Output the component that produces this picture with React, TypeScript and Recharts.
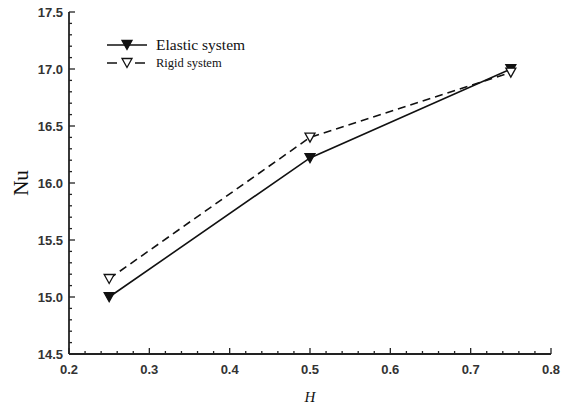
import React from 'react';
import { LineChart, Line, XAxis, YAxis } from 'recharts';

const hValues = [0.25, 0.5, 0.75];
const elasticNu = [15.0, 16.22, 17.0];
const rigidNu = [15.16, 16.4, 16.97];
const xMajorTicks = [0.2, 0.3, 0.4, 0.5, 0.6, 0.7, 0.8];
const yMajorTicks = [14.5, 15.0, 15.5, 16.0, 16.5, 17.0, 17.5];
const xMinorDiv = 5;
const yMinorDiv = 5;

const subdivide = (majors: number[], div: number) => {
  const out: number[] = [];
  for (let i = 0; i < majors.length; i++) {
    out.push(majors[i]);
    if (i < majors.length - 1) {
      const step = (majors[i + 1] - majors[i]) / div;
      for (let k = 1; k < div; k++) out.push(+(majors[i] + step * k).toFixed(4));
    }
  }
  return out;
};

const xTicks = subdivide(xMajorTicks, xMinorDiv);
const yTicks = subdivide(yMajorTicks, yMinorDiv);

const data = hValues.map((h, i) => ({ h, elastic: elasticNu[i], rigid: rigidNu[i] }));

const isMajor = (v: number, majors: number[]) => majors.some((m) => Math.abs(m - v) < 1e-6);

const TICK_MARGIN = 4;
const tickFont = { fontFamily: 'Liberation Sans, Arial, sans-serif', fontSize: 13, fill: '#333', fontWeight: 600 };

const YTick = (props: any) => {
  const { x, y, payload } = props;
  const major = isMajor(payload.value, yMajorTicks);
  const axisX = x + TICK_MARGIN;
  return (
    <g>
      <line x1={axisX} x2={axisX + (major ? 6 : 3)} y1={y} y2={y} stroke="#222" strokeWidth={1.3} />
      {major && (
        <text x={x - 2} y={y} dy={5} textAnchor="end" {...tickFont}>
          {payload.value.toFixed(1)}
        </text>
      )}
    </g>
  );
};

const XTick = (props: any) => {
  const { x, y, payload } = props;
  const major = isMajor(payload.value, xMajorTicks);
  const axisY = y - TICK_MARGIN;
  return (
    <g>
      <line x1={x} x2={x} y1={axisY} y2={axisY - (major ? 6 : 3)} stroke="#222" strokeWidth={1.3} />
      {major && (
        <text x={x} y={y} dy={16} textAnchor="middle" {...tickFont}>
          {payload.value.toFixed(1)}
        </text>
      )}
    </g>
  );
};

const TriDot = (filled: boolean) => (props: any) => {
  const { cx, cy, index } = props;
  if (cx == null || cy == null) return <g key={index} />;
  const s = 5;
  return (
    <path
      key={index}
      d={`M${cx - s},${cy - s * 0.85} L${cx + s},${cy - s * 0.85} L${cx},${cy + s * 0.95} Z`}
      fill={filled ? '#111' : '#fff'}
      stroke="#111"
      strokeWidth={1.3}
    />
  );
};

const legendRows = [
  { label: 'Elastic system', dashed: false, filled: true, size: 15.5 },
  { label: 'Rigid system', dashed: true, filled: false, size: 12.5 },
];

const LegendBox = () => (
  <div style={{ position: 'absolute', left: 104, top: 36 }}>
    {legendRows.map((r) => (
      <div key={r.label} style={{ display: 'flex', alignItems: 'center', height: 18 }}>
        <svg width={48} height={14}>
          {r.dashed ? (
            <g>
              <line x1={3} x2={13} y1={7} y2={7} stroke="#111" strokeWidth={1.5} />
              <line x1={31} x2={41} y1={7} y2={7} stroke="#111" strokeWidth={1.5} />
            </g>
          ) : (
            <line x1={3} x2={43} y1={7} y2={7} stroke="#111" strokeWidth={1.5} />
          )}
          <path d="M18,2.5 L28,2.5 L23,11.5 Z" fill={r.filled ? '#111' : '#fff'} stroke="#111" strokeWidth={1.3} />
        </svg>
        <span style={{ fontFamily: 'Liberation Serif, Times New Roman, serif', fontSize: r.size, color: '#111', marginLeft: 4, lineHeight: '18px' }}>
          {r.label}
        </span>
      </div>
    ))}
  </div>
);

export default function App() {
  return (
    <div style={{ position: 'absolute', left: 0, top: 0, width: 568, height: 408, background: '#fff' }}>
      <LineChart width={568} height={408} data={data} margin={{ top: 12, right: 17, bottom: 14, left: 29 }}>
        <XAxis
          xAxisId="b"
          dataKey="h"
          type="number"
          domain={[0.2, 0.8]}
          ticks={xTicks}
          interval={0}
          tick={<XTick />}
          tickLine={false}
          tickSize={0}
          tickMargin={TICK_MARGIN}
          axisLine={{ stroke: '#222', strokeWidth: 1.8 }}
          height={40}
          label={(p: any) => {
            const vb = p.viewBox;
            return (
              <text x={vb.x + vb.width / 2} y={vb.y + 48} textAnchor="middle" fontFamily="Liberation Serif, serif" fontStyle="italic" fontSize={15} fill="#111">
                H
              </text>
            );
          }}
        />
        <XAxis xAxisId="t" orientation="top" dataKey="h" type="number" domain={[0.2, 0.8]} tick={false} tickLine={false} height={0} axisLine={{ stroke: '#222', strokeWidth: 1.8 }} />
        <YAxis
          yAxisId="l"
          type="number"
          domain={[14.5, 17.5]}
          ticks={yTicks}
          interval={0}
          tick={<YTick />}
          tickLine={false}
          tickSize={0}
          tickMargin={TICK_MARGIN}
          axisLine={{ stroke: '#222', strokeWidth: 1.8 }}
          width={40}
          label={(p: any) => {
            const vb = p.viewBox;
            const cx = vb.x - 1;
            const cy = vb.y + vb.height / 2;
            return (
              <text x={cx} y={cy} transform={`rotate(-90 ${cx} ${cy})`} textAnchor="middle" fontFamily="Liberation Serif, serif" fontSize={21} fill="#111">
                Nu
              </text>
            );
          }}
        />
        <YAxis yAxisId="r" orientation="right" type="number" domain={[14.5, 17.5]} tick={false} tickLine={false} width={0} axisLine={{ stroke: '#222', strokeWidth: 1.8 }} />
        <Line
          xAxisId="b"
          yAxisId="l"
          dataKey="elastic"
          name="Elastic system"
          stroke="#111"
          strokeWidth={1.6}
          dot={TriDot(true)}
          isAnimationActive={false}
        />
        <Line
          xAxisId="b"
          yAxisId="l"
          dataKey="rigid"
          name="Rigid system"
          stroke="#111"
          strokeWidth={1.6}
          strokeDasharray="8 5"
          dot={TriDot(false)}
          isAnimationActive={false}
        />
      </LineChart>
      <LegendBox />
    </div>
  );
}
